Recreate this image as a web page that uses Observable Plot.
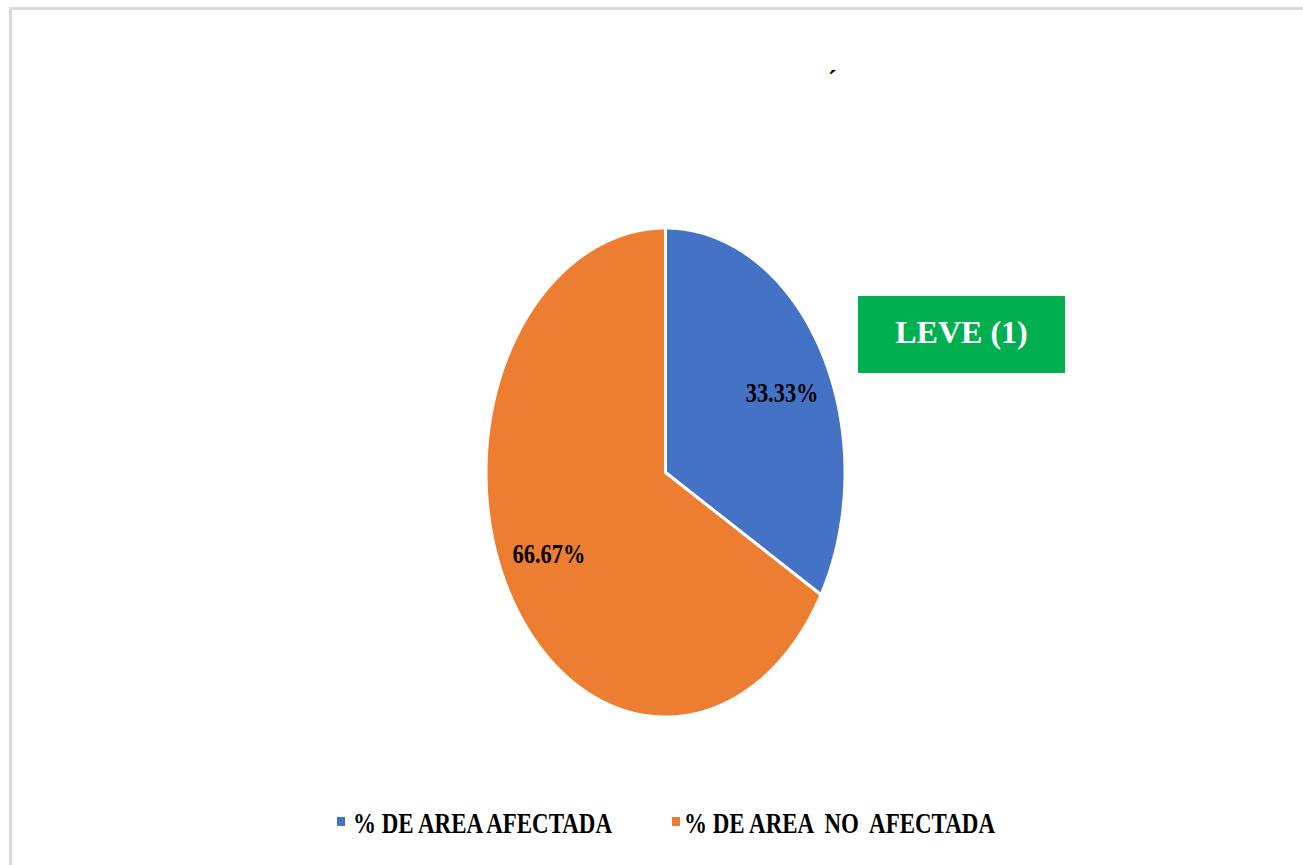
<!DOCTYPE html>
<html>
<head>
<meta charset="utf-8">
<script src="https://cdn.jsdelivr.net/npm/d3@7"></script>
<script src="https://cdn.jsdelivr.net/npm/@observablehq/plot@0.6"></script>
<style>
  html, body { margin: 0; padding: 0; background: #fff; overflow: hidden; }
  #wrap { position: relative; width: 1303px; height: 865px; overflow: hidden; background: #fff; }
  #frame { position: absolute; left: 9px; top: 7px; width: 1400px; height: 1000px; border: 3px solid #d9d9d9; box-sizing: border-box; }
  #chart { position: absolute; left: 0; top: 0; }
  #badge { position: absolute; left: 858px; top: 296px; width: 207px; height: 77px; background: #00B050;
           color: #fff; font: bold 32px "Liberation Serif", "Times New Roman", serif; display: flex;
           align-items: center; justify-content: center; padding-bottom: 4px; box-sizing: border-box; }
  #accent { position: absolute; left: 828px; top: 65px; font: bold 26px "Liberation Serif", serif; color: #000; }
  .leg { position: absolute; top: 807px; height: 29px; line-height: 29px; white-space: pre;
         font: bold 29px "Liberation Serif", "Times New Roman", serif; color: #000; }
  .leg .sw { position: absolute; top: 10px; width: 8px; height: 9px; }
  .leg .tx { position: absolute; display: inline-block; transform-origin: left center; }
</style>
</head>
<body>
<div id="wrap">
  <div id="frame"></div>
  <div id="accent">´</div>
  <div id="chart"></div>
  <div id="badge"></div>
</div>
<script>
// ---- data ----
const categories = ["% DE AREA AFECTADA", "% DE AREA  NO  AFECTADA"];
const values = [33.33, 66.67];
const colors = ["#4472C4", "#ED7D31"];
const badgeText = "LEVE (1)";

// ---- pie geometry from data ----
const data = categories.map((c, i) => ({category: c, value: values[i], color: colors[i]}));
const arcs = d3.pie().sort(null).value(d => d.value).startAngle(0).endAngle(2 * Math.PI)(data);

const slices = arcs.map(a => {
  const pts = [{x: 0, y: 0}];
  const n = Math.max(2, Math.ceil((a.endAngle - a.startAngle) / 0.005));
  for (let k = 0; k <= n; k++) {
    const t = a.startAngle + (a.endAngle - a.startAngle) * k / n;
    pts.push({x: Math.sin(t), y: Math.cos(t)});
  }
  pts.push({x: 0, y: 0});
  return {color: a.data.color, pts};
});

const labels = arcs.map(a => {
  const m = (a.startAngle + a.endAngle) / 2;
  return {x: Math.sin(m) * 0.75, y: Math.cos(m) * 0.655, text: a.data.value.toFixed(2) + "%"};
});

const plot = Plot.plot({
  width: 1303,
  height: 865,
  margin: 0,
  style: {background: "transparent", overflow: "visible"},
  x: {domain: [-1, 1], range: [485.5, 844.5], axis: null},
  y: {domain: [-1, 1], range: [716.5, 227.5], axis: null},
  marks: [
    ...slices.map(s => Plot.line(s.pts, {x: "x", y: "y", fill: s.color, stroke: "white", strokeWidth: 3, strokeLinejoin: "miter", curve: "linear"})),
    Plot.text(labels, {x: "x", y: "y", text: "text", fontSize: 28, fontWeight: "bold",
      fontFamily: "'Liberation Serif', 'Times New Roman', serif", fill: "#000", dy: 1})
  ]
});
document.getElementById("chart").appendChild(plot);
// condense label glyphs horizontally like the reference
plot.querySelectorAll("text").forEach(t => {
  const tr = t.getAttribute("transform") || "";
  t.setAttribute("transform", tr + " scale(0.8,1)");
});

document.getElementById("badge").textContent = badgeText;

// ---- legend ----
const legPos = [{sw: 337, tx: 353, w: 259}, {sw: 672, tx: 684, w: 311}];
const wrap = document.getElementById("wrap");
categories.forEach((c, i) => {
  const sw = document.createElement("div");
  sw.className = "leg";
  sw.style.left = "0px";
  const box = document.createElement("span");
  box.className = "sw";
  box.style.left = legPos[i].sw + "px";
  box.style.background = colors[i];
  const tx = document.createElement("span");
  tx.className = "tx";
  tx.style.left = legPos[i].tx + "px";
  tx.textContent = c;
  sw.appendChild(box);
  sw.appendChild(tx);
  wrap.appendChild(sw);
  const w = tx.getBoundingClientRect().width;
  tx.style.transform = `scaleX(${legPos[i].w / w})`;
});
</script>
</body>
</html>
